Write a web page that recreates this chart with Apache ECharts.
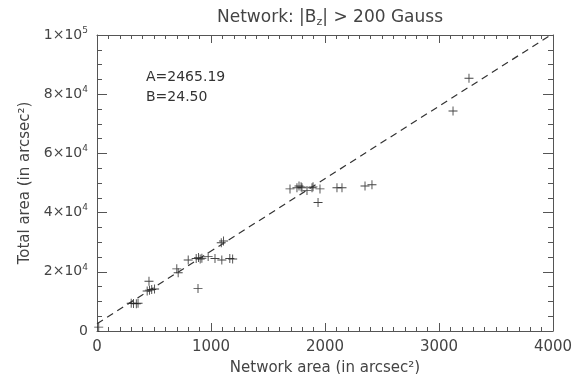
<!DOCTYPE html>
<html>
<head>
<meta charset="utf-8">
<script src="https://cdn.jsdelivr.net/npm/echarts@6/dist/echarts.min.js"></script>
<style>
  html, body { margin: 0; padding: 0; background: #fff; }
  #chart { width: 573px; height: 374px; }
</style>
</head>
<body>
<div id="chart"></div>
<script>
// Network area vs total area of each region (arcsec^2)
const networkArea = [15, 300, 320, 345, 360, 440, 460, 480, 505, 456, 700, 712,
  800, 870, 890, 905, 920, 975, 1035, 1095, 1165, 1190, 886, 1090, 1110,
  1693, 1754, 1772, 1790, 1798, 1842, 1886, 1895, 1956, 2105, 2149, 2351, 2412,
  1939, 3123, 3263];
const totalArea = [1300, 9400, 9300, 9200, 9400, 13500, 13800, 14000, 14200, 16800, 21000, 19700,
  24000, 24500, 24800, 24300, 24600, 25200, 24500, 24000, 24500, 24300, 14400, 29800, 30400,
  48000, 48400, 49000, 48700, 48400, 47500, 48400, 48700, 48000, 48400, 48400, 49000, 49400,
  43400, 74300, 85400];

// Linear fit: total = A + B * network
const fitA = 2465.19;
const fitB = 24.50;
const fitX = [0, 4000];

const xTicks = { min: 0, max: 4000, interval: 1000 };
const yTicks = { min: 0, max: 100000, interval: 20000 };

const FONT = 'DejaVu Sans';
const INK = '#444';
const AXIS = '#555';

const points = networkArea.map((x, i) => [x, totalArea[i]]);
const fitLine = fitX.map(x => [x, fitA + fitB * x]);

function sciLabel(v) {
  if (v === 0) return '{b|0}';
  const e = Math.floor(Math.log10(v) + 1e-9);
  const m = Math.round(v / Math.pow(10, e));
  return '{b|' + m + '×10}{s|' + e + '}';
}

const plusPath = 'path://M4.5,0 L5.5,0 L5.5,10 L4.5,10 Z M0,4.5 L10,4.5 L10,5.5 L0,5.5 Z';

const chart = echarts.init(document.getElementById('chart'), null, { renderer: 'canvas' });

const axisLine = { show: true, onZero: false, lineStyle: { color: AXIS, width: 1 } };

chart.setOption({
  backgroundColor: '#fff',
  animation: false,
  title: {
    text: 'Network: |B{sub|z}| > 200 Gauss',
    left: 325, top: 3, textAlign: 'center',
    textStyle: {
      fontFamily: FONT, fontSize: 17, fontWeight: 'normal', color: INK,
      rich: {
        sub: { fontFamily: FONT, fontSize: 11, color: INK, verticalAlign: 'bottom', padding: [9, 0, 0, 0] }
      }
    }
  },
  grid: { left: 97, right: 20, top: 35, bottom: 43, containLabel: false, outerBoundsMode: 'none' },
  xAxis: [
    {
      type: 'value', position: 'bottom',
      min: xTicks.min, max: xTicks.max, interval: xTicks.interval,
      name: 'Network area (in arcsec²)', nameLocation: 'middle', nameGap: 30,
      nameTextStyle: { fontFamily: FONT, fontSize: 15, color: INK },
      axisLine: axisLine, splitLine: { show: false },
      axisTick: { show: true, inside: true, length: 8, lineStyle: { color: AXIS } },
      minorTick: { show: true, splitNumber: 10, length: 4, lineStyle: { color: AXIS } },
      axisLabel: { fontFamily: FONT, fontSize: 15, color: INK, margin: 9, formatter: v => String(v) }
    },
    {
      type: 'value', position: 'top',
      min: xTicks.min, max: xTicks.max, interval: xTicks.interval,
      axisLine: axisLine, splitLine: { show: false },
      axisTick: { show: true, inside: true, length: 8, lineStyle: { color: AXIS } },
      minorTick: { show: true, splitNumber: 10, length: 4, lineStyle: { color: AXIS } },
      axisLabel: { show: false }
    }
  ],
  yAxis: [
    {
      type: 'value', position: 'left',
      min: yTicks.min, max: yTicks.max, interval: yTicks.interval,
      name: 'Total area (in arcsec²)', nameLocation: 'middle', nameGap: 62, nameRotate: 90,
      nameTextStyle: { fontFamily: FONT, fontSize: 15, color: INK },
      axisLine: axisLine, splitLine: { show: false },
      axisTick: { show: true, inside: true, length: 10, lineStyle: { color: AXIS } },
      minorTick: { show: true, splitNumber: 4, length: 5, lineStyle: { color: AXIS } },
      axisLabel: {
        margin: 9, formatter: sciLabel,
        rich: {
          b: { fontFamily: FONT, fontSize: 14, color: INK, lineHeight: 18 },
          s: { fontFamily: FONT, fontSize: 9, color: INK, verticalAlign: 'top', lineHeight: 18 }
        }
      }
    },
    {
      type: 'value', position: 'right',
      min: yTicks.min, max: yTicks.max, interval: yTicks.interval,
      axisLine: axisLine, splitLine: { show: false },
      axisTick: { show: true, inside: true, length: 10, lineStyle: { color: AXIS } },
      minorTick: { show: true, splitNumber: 4, length: 5, lineStyle: { color: AXIS } },
      axisLabel: { show: false }
    }
  ],
  graphic: [
    { type: 'text', left: 146, top: 70, style: { text: 'A=' + fitA.toFixed(2), fontFamily: FONT, fontSize: 14, fill: '#333' } },
    { type: 'text', left: 146, top: 90, style: { text: 'B=' + fitB.toFixed(2), fontFamily: FONT, fontSize: 14, fill: '#333' } }
  ],
  series: [
    {
      type: 'line', data: fitLine, xAxisIndex: 0, yAxisIndex: 0,
      symbol: 'none', clip: true,
      lineStyle: { color: '#333', width: 1.2, type: [7, 5] }
    },
    {
      type: 'scatter', data: points, xAxisIndex: 0, yAxisIndex: 0,
      symbol: plusPath, symbolSize: 9,
      itemStyle: { color: '#222', opacity: 0.85 }
    }
  ]
});
</script>
</body>
</html>
